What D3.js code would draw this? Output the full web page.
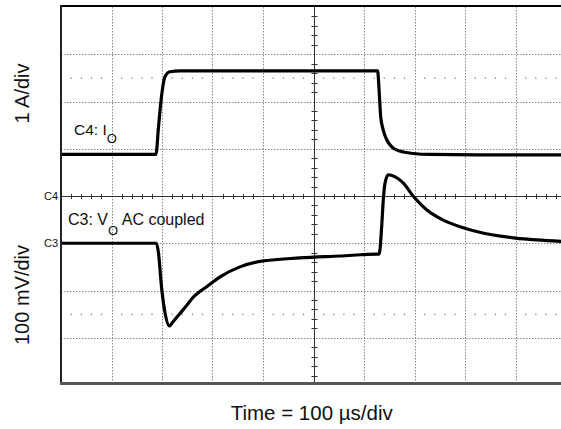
<!DOCTYPE html>
<html>
<head>
<meta charset="utf-8">
<script src="https://cdn.jsdelivr.net/npm/d3@7"></script>
<style>
  html, body { margin: 0; padding: 0; background: #fff; }
  svg { display: block; }
  text { font-family: "Liberation Sans", Arial, Helvetica, sans-serif; fill: #111; }
</style>
</head>
<body>
<svg id="chart" width="561" height="429"></svg>
<script>
// ---- Data ----
// Time in µs (100 µs/div, 10 divisions)
const timeDomain = [0, 1000];
// C4: output current I_O, amps (1 A/div), ground at the centre line
const tCurrent = [0, 100, 188, 193, 198, 205, 209, 215, 236, 400, 627, 629, 631, 633, 638, 645, 655, 671, 698, 731, 850, 1000];
const iCurrent = [0.88, 0.88, 0.88, 1.45, 2.01, 2.50, 2.58, 2.63, 2.65, 2.65, 2.65, 2.40, 2.03, 1.68, 1.40, 1.19, 1.04, 0.95, 0.90, 0.88, 0.87, 0.87];
// C3: output voltage V_O (AC coupled), mV (100 mV/div), ground one division below centre
const tVoltage = [0, 100, 189, 193, 199, 206, 214.5, 222, 236, 250, 262, 275, 288.5, 315, 354.5, 391, 473, 552, 627.7, 630, 635, 638.2, 641.6, 648, 661, 678, 698, 724, 757, 790, 823, 900, 942, 1000];
const vVoltage = [0, 0, 0, -20, -92, -147, -175, -166, -148, -130, -114, -102, -92, -71, -50, -39, -31, -27, -23, -23, 35, 92, 127, 145, 141, 127, 99, 71, 49, 35, 25, 11, 7, 3.5];
// Graticule
const xDivisions = d3.range(0, 11);        // 10 horizontal divisions
const yDivisions = d3.range(-4, 5);        // 8 vertical divisions
const channelMarkers = [{name: "C4", div: 0}, {name: "C3", div: -1}];

// ---- Layout ----
const svg = d3.select("#chart");
const pLeft = 61, pRight = 566, pTop = 7, pBottom = 385;
const x = d3.scaleLinear().domain(timeDomain).range([pLeft, pRight]);
const yDiv = d3.scaleLinear().domain([-4, 4]).range([pBottom, pTop]);
const yCurrent = d3.scaleLinear().domain([0, 1]).range([yDiv(0), yDiv(1)]);      // 1 A/div
const yVoltage = d3.scaleLinear().domain([0, 100]).range([yDiv(-1), yDiv(0)]);   // 100 mV/div

const usPerDiv = 100;
const g = svg.append("g");

// grid lines (dotted)
g.selectAll("line.vgrid").data(xDivisions.filter(d => d > 0 && d < 10 && d !== 5)).enter()
  .append("line")
  .attr("x1", d => Math.round(x(d * usPerDiv)) + 0.5).attr("x2", d => Math.round(x(d * usPerDiv)) + 0.5)
  .attr("y1", pTop).attr("y2", pBottom)
  .attr("stroke", "#8a8a8a").attr("stroke-width", 1).attr("stroke-dasharray", "1.5,1.5");
g.selectAll("line.hgrid").data(yDivisions.filter(d => d > -4 && d < 4 && d !== 0)).enter()
  .append("line")
  .attr("x1", pLeft).attr("x2", pRight)
  .attr("y1", d => Math.round(yDiv(d)) + 0.5).attr("y2", d => Math.round(yDiv(d)) + 0.5)
  .attr("stroke", "#8a8a8a").attr("stroke-width", 1).attr("stroke-dasharray", "1.5,1.5");

// sparse dot rows at +/-2.5 div
const subTicksX = d3.range(1, 50).filter(k => k % 5 !== 0);
[2.5, -2.5].forEach(dv => {
  g.selectAll(null).data(subTicksX).enter().append("rect")
    .attr("x", k => x(k * usPerDiv / 5) - 0.5).attr("y", yDiv(dv) - 0.5)
    .attr("width", 1.2).attr("height", 1.5).attr("fill", "#8a8a8a");
});

// centre axes with minor ticks
const cx = Math.round(x(5 * usPerDiv)) + 0.5;
const cy = Math.round(yDiv(0)) + 0.5;
g.append("line").attr("x1", pLeft).attr("x2", pRight).attr("y1", cy).attr("y2", cy)
  .attr("stroke", "#333").attr("stroke-width", 1);
g.append("line").attr("x1", cx).attr("x2", cx).attr("y1", pTop).attr("y2", pBottom)
  .attr("stroke", "#333").attr("stroke-width", 1);
g.selectAll(null).data(subTicksX).enter().append("line")
  .attr("x1", k => Math.round(x(k * usPerDiv / 5)) + 0.5).attr("x2", k => Math.round(x(k * usPerDiv / 5)) + 0.5)
  .attr("y1", cy - 2.5).attr("y2", cy + 2.5).attr("stroke", "#333").attr("stroke-width", 1);
const subTicksY = d3.range(-19, 20).filter(k => k % 5 !== 0).map(k => k / 5);
g.selectAll(null).data(subTicksY).enter().append("line")
  .attr("x1", cx - 3).attr("x2", cx + 3)
  .attr("y1", d => Math.round(yDiv(d)) + 0.5).attr("y2", d => Math.round(yDiv(d)) + 0.5)
  .attr("stroke", "#333").attr("stroke-width", 1);

// traces
svg.append("clipPath").attr("id", "plotclip").append("rect")
  .attr("x", pLeft).attr("y", pTop).attr("width", pRight - pLeft).attr("height", pBottom - pTop);
const lineI = d3.line().x((d, i) => x(tCurrent[i])).y(d => yCurrent(d)).curve(d3.curveMonotoneX);
const lineV = d3.line().x((d, i) => x(tVoltage[i])).y(d => yVoltage(d)).curve(d3.curveMonotoneX);
g.append("path").attr("d", lineI(iCurrent)).attr("fill", "none").attr("stroke", "#000")
  .attr("stroke-width", 3.2).attr("stroke-linejoin", "round").attr("clip-path", "url(#plotclip)");
g.append("path").attr("d", lineV(vVoltage)).attr("fill", "none").attr("stroke", "#000")
  .attr("stroke-width", 3.2).attr("stroke-linejoin", "round").attr("clip-path", "url(#plotclip)");

// frame
g.append("line").attr("x1", pLeft - 1).attr("x2", 561).attr("y1", 6).attr("y2", 6)
  .attr("stroke", "#000").attr("stroke-width", 2);
g.append("line").attr("x1", pLeft).attr("x2", pLeft).attr("y1", 5).attr("y2", 385)
  .attr("stroke", "#222").attr("stroke-width", 2);
g.append("line").attr("x1", pLeft - 1).attr("x2", 561).attr("y1", 383.5).attr("y2", 383.5)
  .attr("stroke", "#555").attr("stroke-width", 3);

// channel markers
svg.selectAll("text.marker").data(channelMarkers).enter().append("text")
  .attr("x", 58).attr("y", d => yDiv(d.div) + 4)
  .attr("text-anchor", "end").attr("font-size", 11).text(d => d.name);

// trace labels
const l4 = svg.append("text").attr("x", 74).attr("y", 135).attr("font-size", 15.5);
l4.append("tspan").text("C4: I");
l4.append("tspan").attr("font-size", 13).attr("dy", 8).text("O");
const l3 = svg.append("text").attr("x", 68).attr("y", 225).attr("font-size", 16);
l3.append("tspan").text("C3: V");
l3.append("tspan").attr("font-size", 13).attr("dy", 10).text("O");
l3.append("tspan").attr("dy", -10).text(" AC coupled");

// axis titles
svg.append("text").attr("transform", "translate(28.5,93.5) rotate(-90)")
  .attr("text-anchor", "middle").attr("font-size", 20).text("1 A/div");
svg.append("text").attr("transform", "translate(29,295) rotate(-90)")
  .attr("text-anchor", "middle").attr("font-size", 20).text("100 mV/div");
svg.append("text").attr("x", 311.7).attr("y", 420)
  .attr("text-anchor", "middle").attr("font-size", 20.5).text("Time = 100 µs/div");
</script>
</body>
</html>
